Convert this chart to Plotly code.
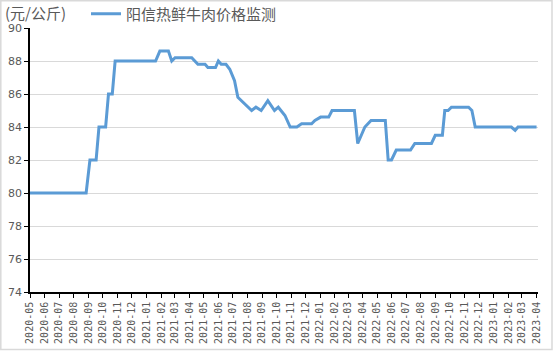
import plotly.graph_objects as go

dates = [
    "2020-05-01", "2020-08-27", "2020-09-04", "2020-09-17", "2020-09-23", "2020-10-07",
    "2020-10-13", "2020-10-21", "2020-10-27", "2021-01-20", "2021-01-29", "2021-02-16",
    "2021-02-23", "2021-03-02", "2021-04-06", "2021-04-19", "2021-05-04", "2021-05-10",
    "2021-05-26", "2021-06-01", "2021-06-07", "2021-06-17", "2021-06-25", "2021-07-05",
    "2021-07-12", "2021-07-26", "2021-08-10", "2021-08-19", "2021-08-30", "2021-09-13",
    "2021-09-27", "2021-10-05", "2021-10-19", "2021-10-30", "2021-11-13", "2021-11-23",
    "2021-12-14", "2021-12-21", "2022-01-02", "2022-01-19", "2022-01-26", "2022-03-14",
    "2022-03-21", "2022-04-05", "2022-04-18", "2022-05-18", "2022-05-24", "2022-05-31",
    "2022-06-10", "2022-07-10", "2022-07-19", "2022-08-23", "2022-08-31", "2022-09-15",
    "2022-09-20", "2022-09-27", "2022-10-04", "2022-11-09", "2022-11-16", "2022-11-23",
    "2023-02-07", "2023-02-15", "2023-02-21", "2023-04-01",
]
prices = [
    80.0, 80.0, 82.0, 82.0, 84.0, 84.0,
    86.0, 86.0, 88.0, 88.0, 88.6, 88.6,
    88.0, 88.2, 88.2, 87.8, 87.8, 87.6,
    87.6, 88.0, 87.8, 87.8, 87.5, 86.8,
    85.8, 85.4, 85.0, 85.2, 85.0, 85.6,
    85.0, 85.2, 84.7, 84.0, 84.0, 84.2,
    84.2, 84.4, 84.6, 84.6, 85.0, 85.0,
    83.0, 84.0, 84.4, 84.4, 82.0, 82.0,
    82.6, 82.6, 83.0, 83.0, 83.5, 83.5,
    85.0, 85.0, 85.2, 85.2, 85.0, 84.0,
    84.0, 83.8, 84.0, 84.0,
]
tick_vals = [f"{2020 + (4 + i) // 12}-{(4 + i) % 12 + 1:02d}-01" for i in range(36)]
tick_text = [v[:7] for v in tick_vals]
y_ticks = list(range(74, 91, 2))

series_name = "阳信热鲜牛肉价格监测"
unit_label = "(元/公斤)"

fig = go.Figure()
fig.add_trace(go.Scatter(
    x=dates, y=prices, mode="lines", name=series_name,
    line=dict(color="#5B9BD5", width=3),
))

W, H = 554, 353
ml, mr, mt, mb = 30, 16, 28, 61
pw, ph = W - ml - mr, H - mt - mb

def px_x(p):
    return (p - ml) / pw

def px_y(p):
    return (H - mb - p) / ph

fig.update_layout(
    width=W, height=H,
    margin=dict(l=ml, r=mr, t=mt, b=mb, pad=0, autoexpand=False),
    paper_bgcolor="white", plot_bgcolor="white",
    font=dict(family="Noto Sans CJK SC, sans-serif", color="#595959", size=11),
    showlegend=True,
    legend=dict(
        orientation="h", xref="container", yref="container",
        x=86 / W, y=1 - 14 / H, xanchor="left", yanchor="middle",
        font=dict(size=15, color="#595959"), bgcolor="rgba(0,0,0,0)",
        itemwidth=30,
    ),
    xaxis=dict(
        type="date", range=["2020-05-01", "2023-04-04"],
        tickvals=tick_vals, ticktext=tick_text, tickangle=-90,
        tickfont=dict(size=10, color="#595959", family="DejaVu Sans Mono, monospace"),
        showgrid=False, showline=True, linecolor="black", linewidth=1.5,
        ticks="outside", ticklen=4, tickcolor="black", zeroline=False,
    ),
    yaxis=dict(
        range=[74, 90], tickvals=y_ticks,
        tickfont=dict(size=11, color="#595959", family="DejaVu Sans, sans-serif"),
        showgrid=True, gridcolor="#d9d9d9", gridwidth=1,
        showline=True, linecolor="black", linewidth=1.5,
        ticks="outside", ticklen=4, tickcolor="black", zeroline=False,
    ),
    annotations=[dict(
        text=unit_label, xref="paper", yref="paper", x=px_x(3), y=px_y(13),
        xanchor="left", yanchor="middle", showarrow=False,
        font=dict(size=15, color="#595959"),
    )],
    shapes=[dict(
        type="rect", xref="paper", yref="paper",
        x0=px_x(0.8), x1=px_x(552), y0=px_y(349.5), y1=px_y(0.8),
        line=dict(color="#d9d9d9", width=1.5), layer="below",
    )],
)

fig.write_html("out.html")
